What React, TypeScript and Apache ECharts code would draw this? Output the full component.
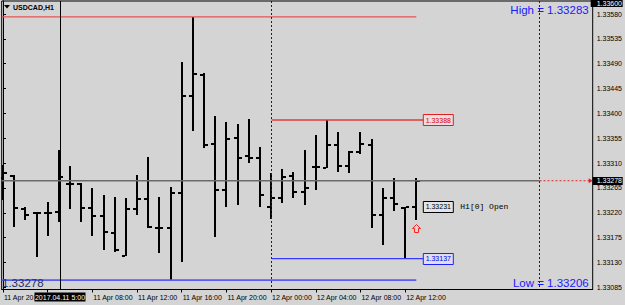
import React, { useEffect, useRef } from "react";
import * as echarts from "echarts";

const barTimes = [
  "2017.04.11 00:00", "2017.04.11 01:00", "2017.04.11 02:00", "2017.04.11 03:00",
  "2017.04.11 04:00", "2017.04.11 05:00", "2017.04.11 06:00", "2017.04.11 07:00",
  "2017.04.11 08:00", "2017.04.11 09:00", "2017.04.11 10:00", "2017.04.11 11:00",
  "2017.04.11 12:00", "2017.04.11 13:00", "2017.04.11 14:00", "2017.04.11 15:00",
  "2017.04.11 16:00", "2017.04.11 17:00", "2017.04.11 18:00", "2017.04.11 19:00",
  "2017.04.11 20:00", "2017.04.11 21:00", "2017.04.11 22:00", "2017.04.11 23:00",
  "2017.04.12 00:00", "2017.04.12 01:00", "2017.04.12 02:00", "2017.04.12 03:00",
  "2017.04.12 04:00", "2017.04.12 05:00", "2017.04.12 06:00", "2017.04.12 07:00",
  "2017.04.12 08:00", "2017.04.12 09:00", "2017.04.12 10:00", "2017.04.12 11:00",
  "2017.04.12 12:00", "2017.04.12 13:00",
];

const opens = [
  1.33283, 1.33287, 1.33227, 1.3322, 1.3322, 1.33221, 1.33272, 1.33272, 1.33229, 1.33214,
  1.33183, 1.33142, 1.33227, 1.33245, 1.33192, 1.33192, 1.33256, 1.33431, 1.3347, 1.33345,
  1.33261, 1.33355, 1.33323, 1.33319, 1.3323, 1.33247, 1.33287, 1.33258, 1.33303, 1.33301,
  1.33343, 1.33305, 1.3333, 1.33343, 1.33216, 1.33247, 1.33229, 1.33231,
];
const highs = [
  1.33307, 1.33288, 1.3323, 1.33221, 1.3324, 1.33334, 1.33305, 1.33274, 1.33265, 1.33252,
  1.33249, 1.33247, 1.33288, 1.33321, 1.33249, 1.33267, 1.33493, 1.33575, 1.33473, 1.33395,
  1.33384, 1.33381, 1.3339, 1.33339, 1.33292, 1.33299, 1.33294, 1.33334, 1.33361, 1.33388,
  1.33366, 1.33332, 1.33366, 1.33354, 1.33265, 1.33283, 1.33231, 1.33283,
];
const lows = [
  1.33243, 1.33194, 1.33207, 1.3314, 1.33178, 1.33203, 1.33227, 1.33203, 1.33178, 1.33153,
  1.33149, 1.33142, 1.33216, 1.33192, 1.33147, 1.33098, 1.33131, 1.33368, 1.33337, 1.33176,
  1.3323, 1.33234, 1.3331, 1.3323, 1.33209, 1.33238, 1.33247, 1.33234, 1.33261, 1.33301,
  1.33294, 1.33292, 1.33326, 1.33192, 1.33162, 1.33223, 1.33137, 1.33207,
];
const closes = [
  1.33292, 1.33229, 1.33216, 1.3322, 1.3322, 1.33285, 1.33272, 1.33229, 1.33214, 1.33185,
  1.33153, 1.33227, 1.33245, 1.33194, 1.33192, 1.33256, 1.33431, 1.33471, 1.33343, 1.33261,
  1.33354, 1.33319, 1.33319, 1.33252, 1.33247, 1.33285, 1.33258, 1.33265, 1.33303, 1.33343,
  1.33305, 1.3333, 1.33345, 1.33216, 1.33247, 1.33236, 1.33231, 1.33278,
];

const xTickIndex = [0, 4, 8, 12, 16, 20, 24, 28, 32, 36];
const xTickLabels = [
  "11 Apr 2017", "11 Apr 04:00", "11 Apr 08:00", "11 Apr 12:00", "11 Apr 16:00",
  "11 Apr 20:00", "12 Apr 00:00", "12 Apr 04:00", "12 Apr 08:00", "12 Apr 12:00",
];
const yTickValues = [
  1.33085, 1.3313, 1.33175, 1.3322, 1.33265, 1.3331, 1.33355, 1.334, 1.33445, 1.3349,
  1.33535, 1.3358,
];

const symbolTitle = "USDCAD,H1";
const bidPrice = 1.33278;
const h1OpenPrice = 1.33231;
const h1OpenText = "H1[0] Open";
const todayHigh = 1.33388;
const todayLow = 1.33137;
const crosshairPrice = 1.336;
const crosshairIndex = 5;
const crosshairLabel = "2017.04.11 5:00";
const daySeparatorIndex = 24;
const nextDayIndex = 48;
const highText = "High = 1.33283";
const lowText = "Low = 1.33206";
const cornerText = "1.33278";

// tick labels hidden under the crosshair's time box
const xLabelIndex = xTickIndex.filter((i) => Math.abs(i - crosshairIndex) > 2);

const X_MIN = -0.1158;
const X_MAX = 52.79;
const Y_MIN = 1.33081;
const Y_MAX = 1.336036;

const BG = "#d4d4d4";
const FONT = "'Liberation Sans', Arial, sans-serif";

const bars = opens.map((o, i) => [i, o, highs[i], lows[i], closes[i]]);

function renderBar(params: any, api: any) {
  const i = api.value(0);
  const pH = api.coord([i, api.value(2)]);
  const pL = api.coord([i, api.value(3)]);
  const pO = api.coord([i, api.value(1)]);
  const pC = api.coord([i, api.value(4)]);
  const cx = Math.round(pH[0]);
  const yH = Math.round(pH[1]);
  const yL = Math.round(pL[1]);
  const yO = Math.round(pO[1]);
  const yC = Math.round(pC[1]);
  return {
    type: "group",
    children: [
      { type: "rect", shape: { x: cx - 1, y: yH, width: 2, height: Math.max(2, yL - yH) }, style: { fill: "#000" } },
      { type: "rect", shape: { x: cx - 4, y: yO - 1, width: 3, height: 2 }, style: { fill: "#000" } },
      { type: "rect", shape: { x: cx + 1, y: yC - 1, width: 3, height: 2 }, style: { fill: "#000" } },
    ],
  };
}

const option: any = {
  animation: false,
  backgroundColor: BG,
  textStyle: { fontFamily: FONT },
  grid: {
    left: 1, right: 30, top: 1, bottom: 15.5,
    show: true, backgroundColor: BG, borderColor: "#000", borderWidth: 1,
  },
  xAxis: {
    type: "value", min: X_MIN, max: X_MAX, position: "bottom",
    axisLine: { show: true, onZero: false, lineStyle: { color: "#000", width: 1 } },
    axisTick: { show: true, customValues: xTickIndex, length: 3, lineStyle: { color: "#000" } },
    axisLabel: {
      customValues: xLabelIndex,
      formatter: (v: number) => {
        const k = xTickIndex.indexOf(Math.round(v));
        return k >= 0 ? xTickLabels[k] : "";
      },
      align: "left", margin: 4, fontSize: 7, lineHeight: 7, fontFamily: FONT, color: "#000",
      padding: [0, 0, 0, 1],
    },
    splitLine: { show: false },
  },
  yAxis: {
    type: "value", position: "right", min: Y_MIN, max: Y_MAX,
    axisLine: { show: true, lineStyle: { color: "#000", width: 1 } },
    axisTick: { show: true, customValues: yTickValues, length: 3, lineStyle: { color: "#000" } },
    axisLabel: {
      customValues: yTickValues,
      formatter: (v: number) => v.toFixed(5),
      margin: 4, fontSize: 7, fontFamily: FONT, color: "#000",
    },
    splitLine: { show: false },
  },
  series: [
    {
      type: "custom", name: "USDCAD", clip: true, renderItem: renderBar, data: bars,
      encode: { x: 0, y: [1, 2, 3, 4] },
    },
  ],
};

function buildGraphics(chart: any) {
  const P = (x: number, y: number) =>
    chart.convertToPixel({ xAxisIndex: 0, yAxisIndex: 0 }, [x, y]) as number[];
  const [gl, gt] = P(X_MIN, Y_MAX);
  const [gr, gb] = P(X_MAX, Y_MIN);
  const g: any[] = [];
  const Z = 50;
  const line = (x1: number, y1: number, x2: number, y2: number, stroke: string, lw: number, dash?: number[]) =>
    g.push({ type: "line", z: Z, silent: true, shape: { x1, y1, x2, y2 }, style: { stroke, lineWidth: lw, lineDash: dash } });
  const text = (x: number, y: number, t: string, fill: string, font: string, align = "left") =>
    g.push({ type: "text", z: Z + 2, silent: true, style: { x, y, text: t, fill, font, align, verticalAlign: "middle" } });
  const box = (x: number, y: number, w: number, h: number, fill: string, stroke?: string) =>
    g.push({ type: "rect", z: Z + 1, silent: true, shape: { x, y, width: w, height: h }, style: { fill, stroke, lineWidth: stroke ? 1 : 0 } });

  const lastIdx = bars.length - 1;
  const lastX = P(lastIdx, Y_MIN)[0];
  const visHigh = Math.max(...highs);
  const visLow = Math.min(...lows);

  // visible range high / low lines
  const yVH = P(0, visHigh)[1];
  line(gl, yVH, lastX, yVH, "#ee5252", 1.3);
  const yVL = P(0, visLow)[1];
  line(gl, yVL, lastX, yVL, "#5a5af5", 1.6);

  // separators
  const xSep = Math.round(P(daySeparatorIndex, Y_MIN)[0]) + 0.5;
  line(xSep, gt, xSep, gb, "#222", 1, [2, 2]);
  const xNext = Math.round(P(nextDayIndex, Y_MIN)[0]) + 0.5;
  line(xNext, gt, xNext, gb, "#222", 1, [2, 2]);

  // crosshair
  const xCross = Math.round(P(crosshairIndex, Y_MIN)[0]) + 1.5;
  line(xCross, gt, xCross, gb, "#000", 1);

  // bid line
  const yBid = P(0, bidPrice)[1];
  line(gl, yBid, xNext, yBid, "#6a6a6a", 1.5);
  line(xNext, yBid, gr - 3, yBid, "#e02020", 1, [2, 2]);
  g.push({
    type: "polygon", z: Z, silent: true,
    shape: { points: [[gr - 4, yBid - 2.5], [gr, yBid], [gr - 4, yBid + 2.5]] },
    style: { fill: "#e02020" },
  });

  // today's high / low
  const boxX = lastX + 7;
  const yTH = P(0, todayHigh)[1];
  line(xSep, yTH, boxX, yTH, "#e23a3a", 1.4);
  box(boxX, Math.round(yTH) - 5.5, 30, 11, "#ecdede", "#e02020");
  text(boxX + 15, yTH, todayHigh.toFixed(5), "#e00000", `7px ${FONT}`, "center");

  const yTL = P(0, todayLow)[1];
  line(xSep, yTL, boxX, yTL, "#3a3aff", 1.4);
  box(boxX, Math.round(yTL) - 5.5, 30, 11, "#dedeef", "#2020ff");
  text(boxX + 15, yTL, todayLow.toFixed(5), "#0000ee", `7px ${FONT}`, "center");

  // H1 open label
  const yOp = P(0, h1OpenPrice)[1];
  box(boxX, Math.round(yOp) - 5.5, 30, 11, "#e4e4e4", "#000");
  text(boxX + 15, yOp, h1OpenPrice.toFixed(5), "#000", `7px ${FONT}`, "center");
  text(boxX + 37, yOp, h1OpenText, "#000", `8px 'Liberation Mono', 'DejaVu Sans Mono', monospace`);

  // arrow under last bar
  const pLow = P(lastIdx, lows[lastIdx]);
  const ax = Math.round(pLow[0]) + 0.5;
  const ay = Math.round(pLow[1]) + 4.5;
  g.push({
    type: "polygon", z: Z, silent: true,
    shape: { points: [[ax, ay], [ax + 4, ay + 4], [ax + 2, ay + 4], [ax + 2, ay + 8], [ax - 2, ay + 8], [ax - 2, ay + 4], [ax - 4, ay + 4]] },
    style: { fill: "none", stroke: "#ff2020", lineWidth: 1 },
  });

  // axis highlight boxes
  box(gr, Math.round(yBid) - 4, 30, 8, "#000");
  text(gr + 4, yBid, bidPrice.toFixed(5), "#fff", `7px ${FONT}`);
  const yCP = P(0, crosshairPrice)[1];
  box(gr - 2, 0, 32, 7, "#000");
  text(gr + 4, Math.max(yCP, 3.5), crosshairPrice.toFixed(5), "#fff", `7px ${FONT}`);

  // crosshair date box
  box(xCross - 26, gb + 3, 51, 9, "#000");
  text(xCross - 0.5, gb + 7.5, crosshairLabel, "#fff", `7px ${FONT}`, "center");

  // title
  g.push({
    type: "polygon", z: Z, silent: true,
    shape: { points: [[4, 5], [10, 5], [7, 8.5]] },
    style: { fill: "#000" },
  });
  text(13, 7, symbolTitle, "#000", `bold 7px ${FONT}`);

  // indicator texts
  text(gr - 4, 10, highText, "#1a1aff", `11.5px ${FONT}`, "right");
  text(gr - 4, 283, lowText, "#1a1aff", `11.5px ${FONT}`, "right");
  text(2, 283, cornerText, "#1f2f6f", `11.5px ${FONT}`);

  return g;
}

export default function App() {
  const ref = useRef<HTMLDivElement>(null);
  useEffect(() => {
    const el = ref.current!;
    const chart = echarts.init(el, null, { renderer: "svg" });
    chart.setOption(option);
    chart.setOption({ graphic: buildGraphics(chart) });
    return () => chart.dispose();
  }, []);
  return (
    <div
      ref={ref}
      style={{ position: "fixed", left: 0, top: 0, width: 625, height: 305, background: BG }}
    />
  );
}
